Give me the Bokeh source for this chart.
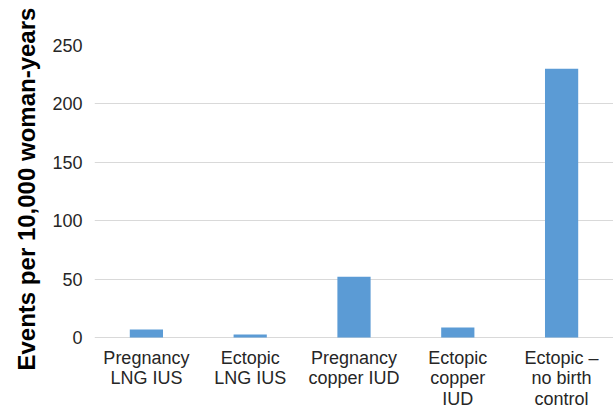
from bokeh.plotting import figure
from bokeh.models import FactorRange, Range1d, ColumnDataSource, Title
from bokeh.core.properties import value
from bokeh.embed import file_html
from bokeh.resources import INLINE

categories = ["Pregnancy\nLNG IUS", "Ectopic\nLNG IUS", "Pregnancy\ncopper IUD",
              "Ectopic\ncopper\nIUD", "Ectopic \u2013\nno birth\ncontrol"]
values = [6.8, 2.5, 52, 8.6, 230]
y_ticks = [0, 50, 100, 150, 200, 250]
y_title = "Events per 10,000 woman-years"

W, H = 613, 420
top_px, zero_px = 45, 337          # frame top and baseline (pixels)
px_per_unit = (zero_px - top_px) / 250.0
y_min = -(H - zero_px) / px_per_unit

src = ColumnDataSource(dict(cat=categories, val=values))

# one row per label line
lx, ly, lt = [], [], []
for cat in categories:
    for j, line in enumerate(cat.split("\n")):
        lx.append(cat)
        ly.append(-(20 + 20.5 * j) / px_per_unit)
        lt.append(line)
lsrc = ColumnDataSource(dict(x=lx, y=ly, t=lt))

p = figure(x_range=FactorRange(factors=categories, range_padding=0),
           y_range=Range1d(y_min, 250),
           width=W, height=H, output_backend="svg", toolbar_location=None,
           min_border_left=94, min_border_right=0, min_border_top=top_px, min_border_bottom=0)

p.vbar(x="cat", top="val", width=0.32, source=src, color="#5b9bd5", line_color=None)
p.text(x="x", y="y", text="t", source=lsrc, text_align="center", text_baseline="middle",
       text_font=value("Liberation Sans"), text_font_size="18px", text_color="#262626")

p.outline_line_color = None
p.xgrid.grid_line_color = None
p.ygrid.grid_line_color = "#d9d9d9"
p.ygrid.grid_line_width = 1
p.xaxis.visible = False

p.yaxis.ticker = y_ticks
p.yaxis.axis_line_color = None
p.yaxis.major_tick_line_color = None
p.yaxis.minor_tick_line_color = None
p.yaxis.major_label_standoff = 6
p.yaxis.major_label_text_font = "Liberation Sans"
p.yaxis.major_label_text_font_size = "18px"
p.yaxis.major_label_text_color = "#262626"

# axis title: its lower end sits 50px above the frame bottom
t = Title(text=y_title, align="left", offset=50,
          text_font="Liberation Sans", text_font_style="bold", text_font_size="24px",
          text_color="#000000", standoff=20)
p.add_layout(t, "left")

open("out.html", "w").write(file_html(p, INLINE))
